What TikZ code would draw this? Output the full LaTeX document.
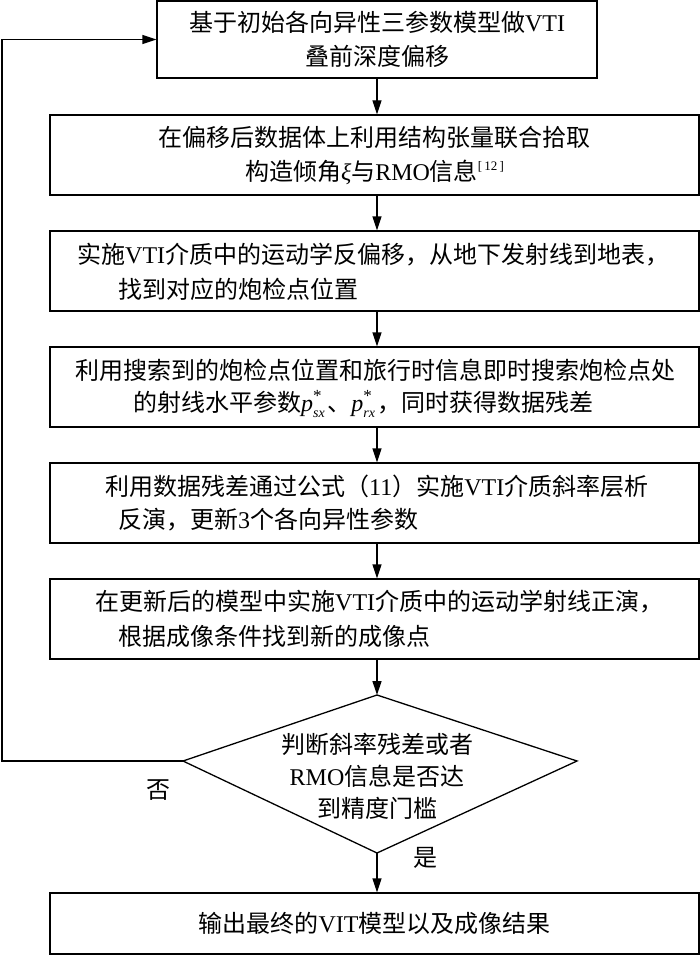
\documentclass[tikz,border=0pt]{standalone}
\usepackage{fontspec}
\setmainfont{Liberation Serif}
\newfontfamily\cjkfont{Noto Sans CJK SC}
\newcommand\zhs[1]{{\cjkfont #1}}
\newcommand\pvar[1]{$\mbox{\textit{p}}^{\mbox{\fontsize{17}{17}\selectfont *}}_{\mbox{\fontsize{14}{14}\selectfont\textit{#1}}}$\hspace{2pt}}
\usetikzlibrary{arrows.meta}
\tikzset{
  box/.style={draw, line width=1.3pt, inner sep=0pt, align=center},
  txt/.style={inner sep=0pt, anchor=west},
  arr/.style={line width=1.3pt, -{Triangle[length=14pt,width=9pt]}},
  ln/.style={line width=1.3pt}
}
\begin{document}
\begin{tikzpicture}[x=1pt,y=-1pt,font=\fontsize{24}{34}\selectfont]
\useasboundingbox (0,0) rectangle (700,955);
% boxes
\node[box, minimum width=440pt, minimum height=77pt] (b1) at (377,39.5)
  {\zhs{基于初始各向异性三参数模型做}VTI\\\zhs{叠前深度偏移}};
\node[box, minimum width=649pt, minimum height=80pt] (b2) at (374.5,155)
  {\zhs{在偏移后数据体上利用结构张量联合拾取}\\\zhs{构造倾角}\textit{ξ}\zhs{与}RMO\zhs{信息}\raisebox{10pt}{\fontsize{13}{13}\selectfont[\,12\,]}};
\node[box, minimum width=649pt, minimum height=80pt] (b3) at (374.5,271) {};
\node[box, minimum width=649pt, minimum height=80pt] (b4) at (374.5,387) {};
\node[box, minimum width=649pt, minimum height=80pt] (b5) at (374.5,503) {};
\node[box, minimum width=649pt, minimum height=80pt] (b6) at (374.5,619) {};
\node[box, minimum width=649pt, minimum height=61pt] (b7) at (374.5,923.5)
  {\zhs{输出最终的}VIT\zhs{模型以及成像结果}};
% box texts
\node[txt] (t3a) at (77,255) {\zhs{实施}VTI\zhs{介质中的运动学反偏移，从地下发射线到地表，}};
\node[txt] (t3b) at (118,289) {\zhs{找到对应的炮检点位置}};
\node[txt] (t4a) at (75,370) {\zhs{利用搜索到的炮检点位置和旅行时信息即时搜索炮检点处}};
\node[txt] (t4b) at (133,404) {\zhs{的射线水平参数}\pvar{sx}\zhs{、}\pvar{rx}\zhs{，同时获得数据残差}};
\node[txt] (t5a) at (105,486) {\zhs{利用数据残差通过公式（}11\zhs{）实施}VTI\zhs{介质斜率层析}};
\node[txt] (t5b) at (118,520) {\zhs{反演，更新}3\zhs{个各向异性参数}};
\node[txt] (t6a) at (95,602) {\zhs{在更新后的模型中实施}VTI\zhs{介质中的运动学射线正演，}};
\node[txt] (t6b) at (118,636) {\zhs{根据成像条件找到新的成像点}};
% diamond
\coordinate (dt) at (377,695);
\coordinate (dl) at (183,761);
\coordinate (dr) at (577,761);
\coordinate (db) at (377,853);
\draw[ln, line join=miter] (dt) -- (dr) -- (db) -- (dl) -- cycle;
\node[inner sep=0pt, align=center, font=\fontsize{24}{32}\selectfont] (dtext) at (377,776)
  {\zhs{判断斜率残差或者}\\RMO\zhs{信息是否达}\\\zhs{到精度门槛}};
% connectors
\draw[arr] (b1.south) -- (b1.south |- b2.north);
\draw[arr] (b1.south |- b2.south) -- (b1.south |- b3.north);
\draw[arr] (b1.south |- b3.south) -- (b1.south |- b4.north);
\draw[arr] (b1.south |- b4.south) -- (b1.south |- b5.north);
\draw[arr] (b1.south |- b5.south) -- (b1.south |- b6.north);
\draw[arr] (b1.south |- b6.south) -- (dt);
\draw[arr] (db) -- (db |- b7.north);
\coordinate (lp1) at (2,761);
\coordinate (lp2) at (2,39.5);
\draw[arr] (dl) -- (lp1) -- (lp2) -- (b1.west);
% labels
\node[inner sep=0pt] (no) at (158,790) {\zhs{否}};
\node[inner sep=0pt] (yes) at (425,858) {\zhs{是}};
\end{tikzpicture}
\end{document}
